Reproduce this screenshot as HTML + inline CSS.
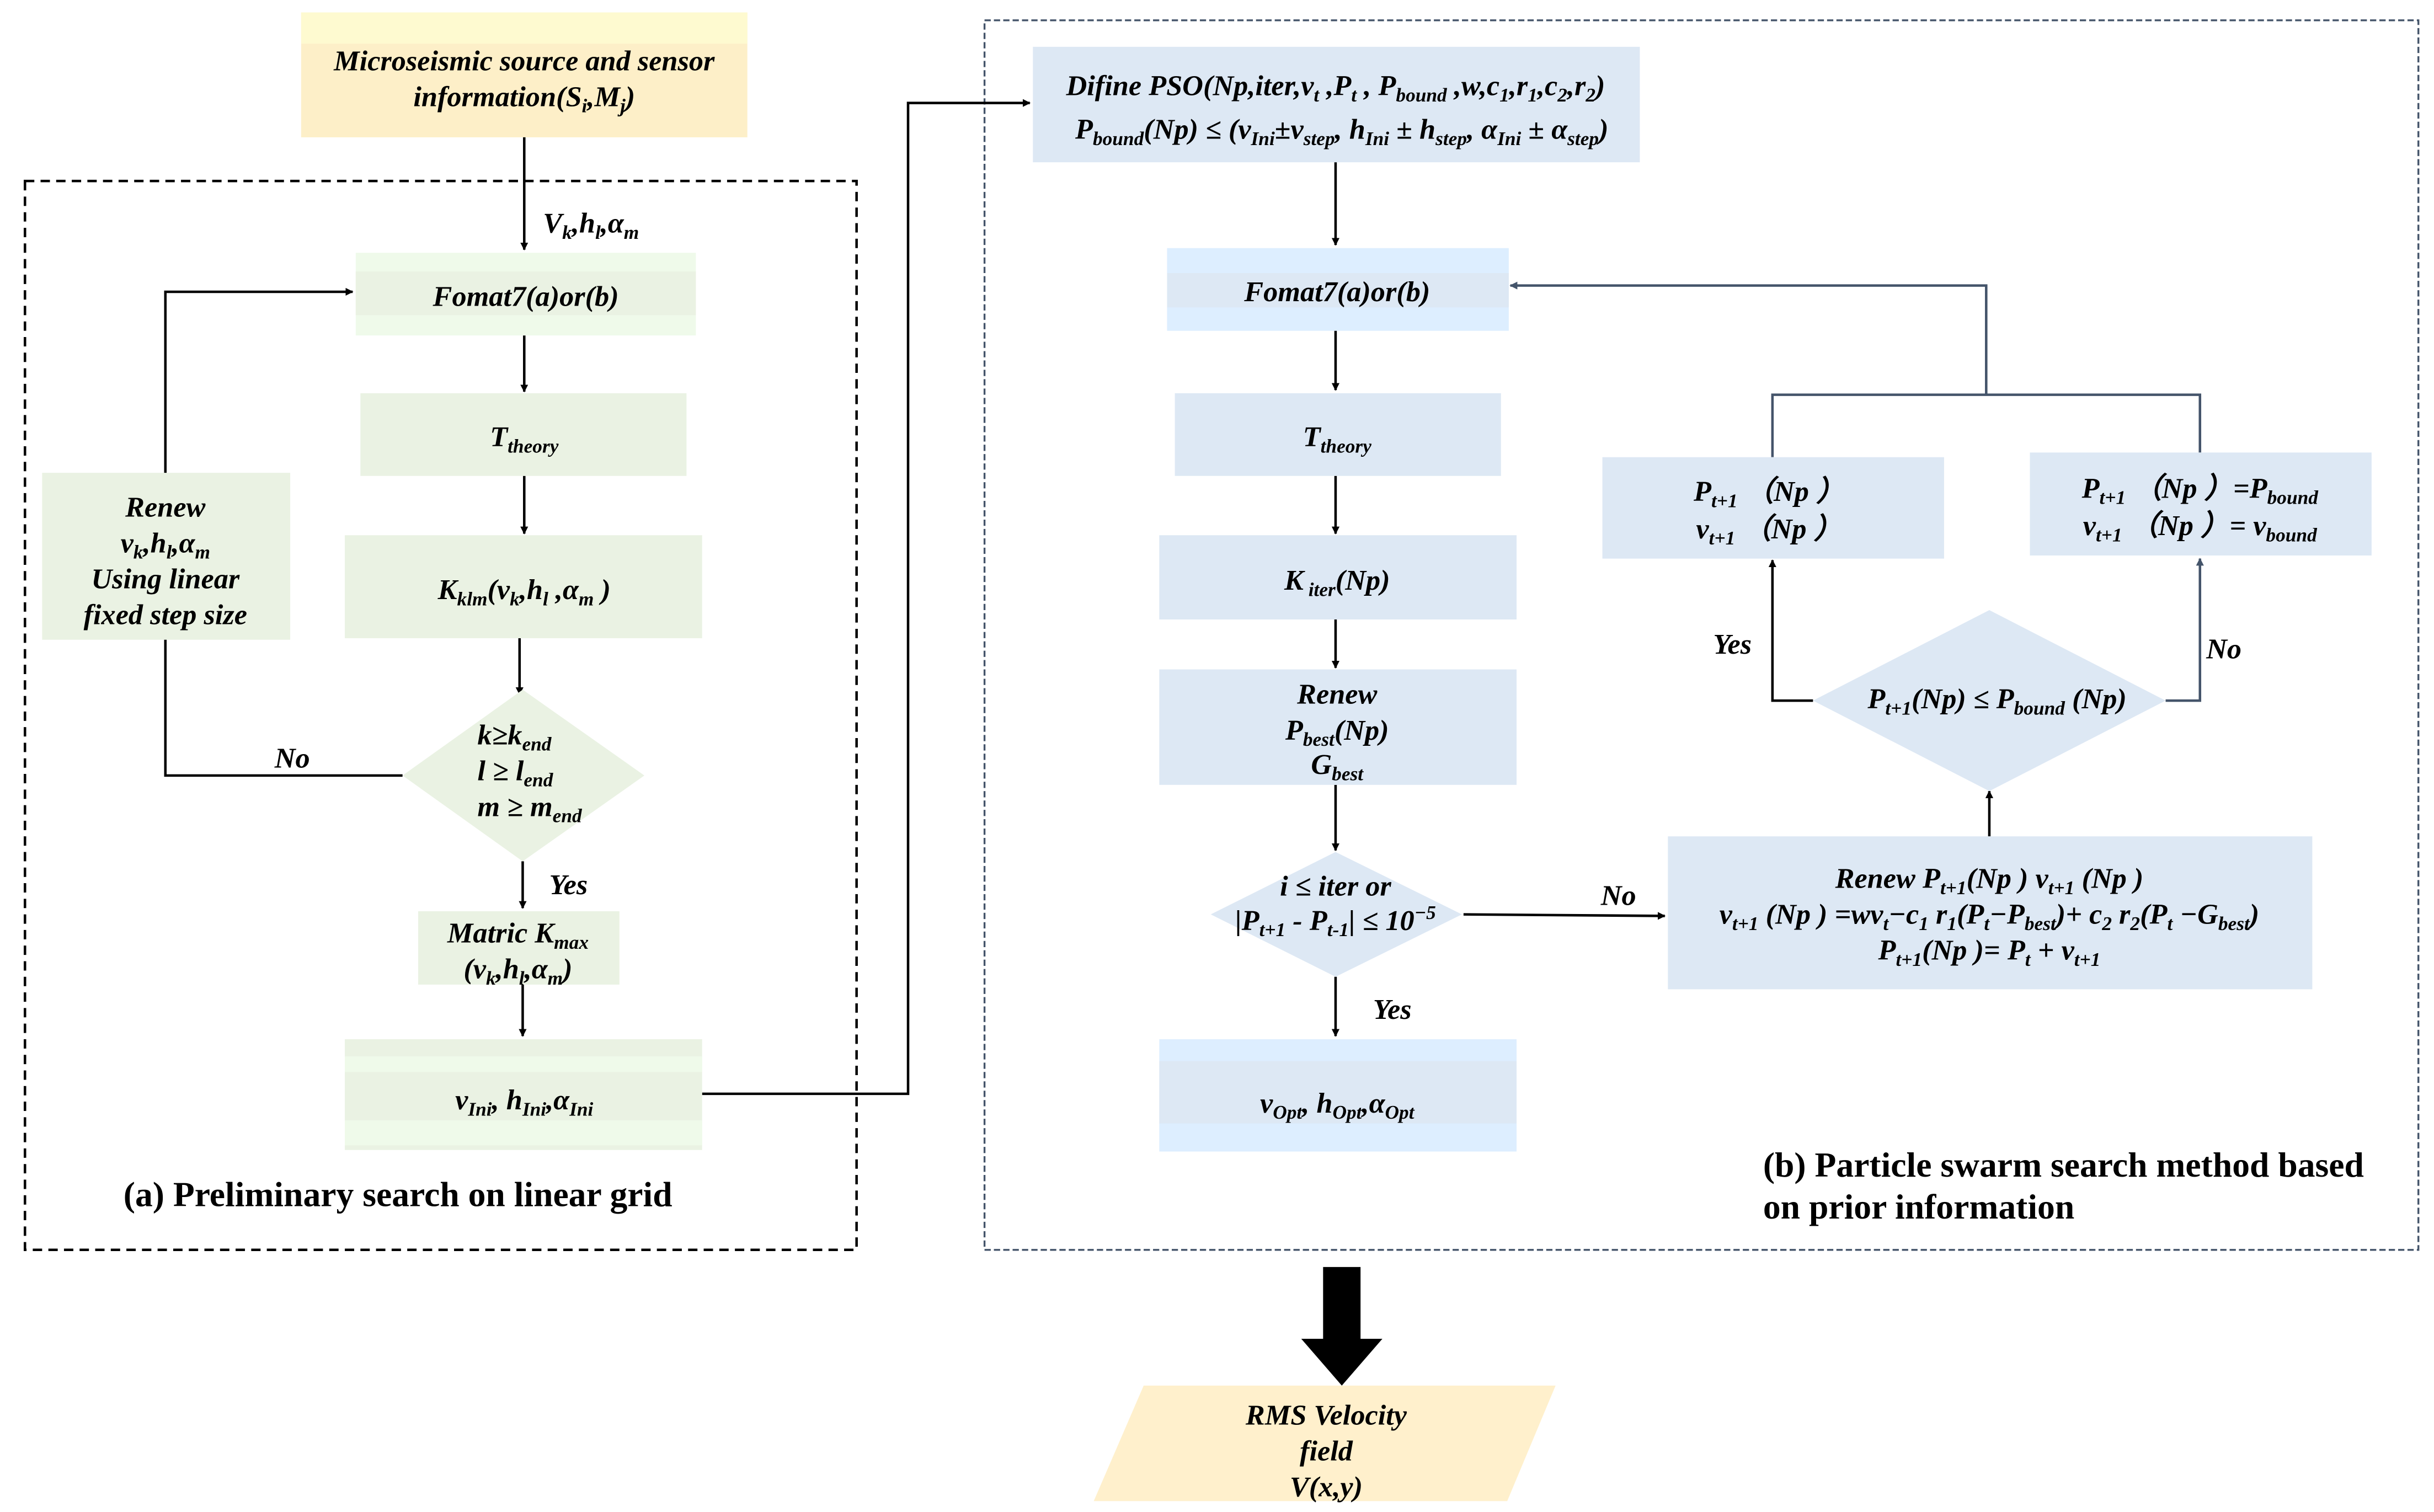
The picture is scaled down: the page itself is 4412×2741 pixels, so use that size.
<!DOCTYPE html>
<html><head><meta charset="utf-8"><style>
html,body{margin:0;padding:0;background:#fff;}
svg{display:block;}
text{font-family:"Liberation Serif",serif;font-weight:bold;font-style:italic;font-size:18.5px;fill:#000;}
.s{font-size:12.5px;}
.n{font-style:normal;font-size:22.5px;}
</style></head><body>
<svg width="4412" height="2741" viewBox="0 0 1560 969" preserveAspectRatio="none" xmlns="http://www.w3.org/2000/svg">
<defs>
<marker id="a" viewBox="0 0 10 10" refX="9" refY="5" markerWidth="5" markerHeight="5" orient="auto-start-reverse" markerUnits="userSpaceOnUse"><path d="M0,0L10,5L0,10z" fill="#000"/></marker>
<marker id="ab" viewBox="0 0 10 10" refX="9" refY="5" markerWidth="5" markerHeight="5" orient="auto-start-reverse" markerUnits="userSpaceOnUse"><path d="M0,0L10,5L0,10z" fill="#44546a"/></marker>
</defs>
<g>
<rect x="16" y="116" width="533" height="685" fill="none" stroke="#000" stroke-width="1.6" stroke-dasharray="6,4"/>
<rect x="631" y="13" width="919" height="788" fill="none" stroke="#44546a" stroke-width="1.2" stroke-dasharray="4,2"/>

<rect x="193" y="8" width="286" height="80" fill="#fdefc8"/>
<rect x="193" y="8" width="286" height="20" fill="#fefad0"/>
<text x="336" y="45" text-anchor="middle">Microseismic source and sensor</text>
<text x="336" y="68" text-anchor="middle">information(S<tspan class="s" dy="4">i</tspan><tspan dy="-4">,M</tspan><tspan class="s" dy="4">j</tspan><tspan dy="-4">)</tspan></text>

<g stroke="#000" stroke-width="1.6" fill="none">
<line x1="336" y1="88" x2="336" y2="160" marker-end="url(#a)"/>
<line x1="336" y1="215" x2="336" y2="251" marker-end="url(#a)"/>
<line x1="336" y1="305" x2="336" y2="342" marker-end="url(#a)"/>
<line x1="333" y1="409" x2="333" y2="445" marker-end="url(#a)"/>
<line x1="335" y1="552" x2="335" y2="582" marker-end="url(#a)"/>
<line x1="335" y1="631" x2="335" y2="664" marker-end="url(#a)"/>
<polyline points="258,497 106,497 106,187 226,187" marker-end="url(#a)"/>
<polyline points="450,701 582,701 582,66 660,66" marker-end="url(#a)"/>
</g>
<text x="348" y="149">V<tspan class="s" dy="4">k</tspan><tspan dy="-4">,h</tspan><tspan class="s" dy="4">l</tspan><tspan dy="-4">,α</tspan><tspan class="s" dy="4">m</tspan></text>

<rect x="228" y="162" width="218" height="53" fill="#effaea"/>
<rect x="228" y="174" width="218" height="28" fill="#eaf2e3"/>
<text x="337" y="196" text-anchor="middle">Fomat7(a)or(b)</text>

<rect x="231" y="252" width="209" height="53" fill="#eaf2e3"/>
<text x="336" y="286" text-anchor="middle">T<tspan class="s" dy="4">theory</tspan></text>

<rect x="221" y="343" width="229" height="66" fill="#eaf2e3"/>
<text x="336" y="384" text-anchor="middle">K<tspan class="s" dy="4">klm</tspan><tspan dy="-4">(v</tspan><tspan class="s" dy="4">k</tspan><tspan dy="-4">,h</tspan><tspan class="s" dy="4">l</tspan><tspan dy="-4"> ,α</tspan><tspan class="s" dy="4">m</tspan><tspan dy="-4"> )</tspan></text>

<rect x="27" y="303" width="159" height="107" fill="#eaf2e3"/>
<text x="106" y="331" text-anchor="middle">Renew</text>
<text x="106" y="354" text-anchor="middle">v<tspan class="s" dy="4">k</tspan><tspan dy="-4">,h</tspan><tspan class="s" dy="4">l</tspan><tspan dy="-4">,α</tspan><tspan class="s" dy="4">m</tspan></text>
<text x="106" y="377" text-anchor="middle">Using linear</text>
<text x="106" y="400" text-anchor="middle">fixed step size</text>

<polygon points="335,442 413,497 335,552 258,497" fill="#eaf2e3"/>
<text x="306" y="477">k≥k<tspan class="s" dy="4">end</tspan></text>
<text x="306" y="500">l ≥ l<tspan class="s" dy="4">end</tspan></text>
<text x="306" y="523">m ≥ m<tspan class="s" dy="4">end</tspan></text>
<text x="176" y="492">No</text>
<text x="352" y="573">Yes</text>

<rect x="268" y="584" width="129" height="47" fill="#eaf2e3"/>
<text x="332" y="604" text-anchor="middle">Matric K<tspan class="s" dy="4">max</tspan></text>
<text x="332" y="627" text-anchor="middle">(v<tspan class="s" dy="4">k</tspan><tspan dy="-4">,h</tspan><tspan class="s" dy="4">l</tspan><tspan dy="-4">,α</tspan><tspan class="s" dy="4">m</tspan><tspan dy="-4">)</tspan></text>

<rect x="221" y="666" width="229" height="71" fill="#eaf2e3"/>
<rect x="221" y="677" width="229" height="10" fill="#effaea"/>
<rect x="221" y="718" width="229" height="16" fill="#effaea"/>
<text x="336" y="711" text-anchor="middle">v<tspan class="s" dy="4">Ini</tspan><tspan dy="-4">, h</tspan><tspan class="s" dy="4">Ini</tspan><tspan dy="-4">,α</tspan><tspan class="s" dy="4">Ini</tspan></text>

<text class="n" x="255" y="773" text-anchor="middle">(a) Preliminary search on linear grid</text>

<g stroke="#000" stroke-width="1.6" fill="none">
<line x1="856" y1="104" x2="856" y2="157" marker-end="url(#a)"/>
<line x1="856" y1="212" x2="856" y2="250" marker-end="url(#a)"/>
<line x1="856" y1="305" x2="856" y2="342" marker-end="url(#a)"/>
<line x1="856" y1="397" x2="856" y2="428" marker-end="url(#a)"/>
<line x1="856" y1="503" x2="856" y2="545" marker-end="url(#a)"/>
<line x1="856" y1="626" x2="856" y2="664" marker-end="url(#a)"/>
<line x1="938" y1="586" x2="1067" y2="587" marker-end="url(#a)"/>
<line x1="1275" y1="536" x2="1275" y2="507" marker-end="url(#a)"/>
<polyline points="1162,449 1136,449 1136,359" marker-end="url(#a)"/>
</g>
<g stroke="#44546a" stroke-width="1.6" fill="none">
<polyline points="1388,449 1410,449 1410,358" marker-end="url(#ab)"/>
<polyline points="1136,293 1136,253 1410,253 1410,290"/>
<polyline points="1273,253 1273,183 968,183" marker-end="url(#ab)"/>
</g>

<rect x="662" y="30" width="389" height="74" fill="#dde8f4"/>
<text x="856" y="61" text-anchor="middle">Difine PSO(Np,iter,v<tspan class="s" dy="4">t</tspan><tspan dy="-4"> ,P</tspan><tspan class="s" dy="4">t</tspan><tspan dy="-4"> , P</tspan><tspan class="s" dy="4">bound</tspan><tspan dy="-4"> ,w,c</tspan><tspan class="s" dy="4">1</tspan><tspan dy="-4">,r</tspan><tspan class="s" dy="4">1</tspan><tspan dy="-4">,c</tspan><tspan class="s" dy="4">2</tspan><tspan dy="-4">,r</tspan><tspan class="s" dy="4">2</tspan><tspan dy="-4">)</tspan></text>
<text x="860" y="89" text-anchor="middle">P<tspan class="s" dy="4">bound</tspan><tspan dy="-4">(Np) ≤ (v</tspan><tspan class="s" dy="4">Ini</tspan><tspan dy="-4">±v</tspan><tspan class="s" dy="4">step</tspan><tspan dy="-4">, h</tspan><tspan class="s" dy="4">Ini</tspan><tspan dy="-4"> ± h</tspan><tspan class="s" dy="4">step</tspan><tspan dy="-4">, α</tspan><tspan class="s" dy="4">Ini</tspan><tspan dy="-4"> ± α</tspan><tspan class="s" dy="4">step</tspan><tspan dy="-4">)</tspan></text>

<rect x="748" y="159" width="219" height="53" fill="#ddeeff"/>
<rect x="748" y="175" width="219" height="22" fill="#dde8f4"/>
<text x="857" y="193" text-anchor="middle">Fomat7(a)or(b)</text>

<rect x="753" y="252" width="209" height="53" fill="#dde8f4"/>
<text x="857" y="286" text-anchor="middle">T<tspan class="s" dy="4">theory</tspan></text>

<rect x="743" y="343" width="229" height="54" fill="#dde8f4"/>
<text x="857" y="378" text-anchor="middle">K<tspan class="s" dy="4"> iter</tspan><tspan dy="-4">(Np)</tspan></text>

<rect x="743" y="429" width="229" height="74" fill="#dde8f4"/>
<text x="857" y="451" text-anchor="middle">Renew</text>
<text x="857" y="474" text-anchor="middle">P<tspan class="s" dy="4">best</tspan><tspan dy="-4">(Np)</tspan></text>
<text x="857" y="496" text-anchor="middle">G<tspan class="s" dy="4">best</tspan></text>

<polygon points="856,546 937,586 856,626 776,586" fill="#dde8f4"/>
<text x="856" y="574" text-anchor="middle">i ≤ iter or</text>
<text x="856" y="596" text-anchor="middle">|P<tspan class="s" dy="4">t+1</tspan><tspan dy="-4"> - P</tspan><tspan class="s" dy="4">t-1</tspan><tspan dy="-4">| ≤ 10</tspan><tspan class="s" dy="-7">−5</tspan></text>
<text x="1026" y="580">No</text>
<text x="880" y="653">Yes</text>

<rect x="743" y="666" width="229" height="72" fill="#ddeeff"/>
<rect x="743" y="680" width="229" height="40" fill="#dde8f4"/>
<text x="857" y="713" text-anchor="middle">v<tspan class="s" dy="4">Opt</tspan><tspan dy="-4">, h</tspan><tspan class="s" dy="4">Opt</tspan><tspan dy="-4">,α</tspan><tspan class="s" dy="4">Opt</tspan></text>

<rect x="1069" y="536" width="413" height="98" fill="#dde8f4"/>
<text x="1275" y="569" text-anchor="middle">Renew P<tspan class="s" dy="4">t+1</tspan><tspan dy="-4">(Np )  v</tspan><tspan class="s" dy="4">t+1</tspan><tspan dy="-4"> (Np )</tspan></text>
<text x="1275" y="592" text-anchor="middle">v<tspan class="s" dy="4">t+1</tspan><tspan dy="-4"> (Np ) =wv</tspan><tspan class="s" dy="4">t</tspan><tspan dy="-4">−c</tspan><tspan class="s" dy="4">1</tspan><tspan dy="-4"> r</tspan><tspan class="s" dy="4">1</tspan><tspan dy="-4">(P</tspan><tspan class="s" dy="4">t</tspan><tspan dy="-4">−P</tspan><tspan class="s" dy="4">best</tspan><tspan dy="-4">)+ c</tspan><tspan class="s" dy="4">2</tspan><tspan dy="-4"> r</tspan><tspan class="s" dy="4">2</tspan><tspan dy="-4">(P</tspan><tspan class="s" dy="4">t</tspan><tspan dy="-4"> −G</tspan><tspan class="s" dy="4">best</tspan><tspan dy="-4">)</tspan></text>
<text x="1275" y="615" text-anchor="middle">P<tspan class="s" dy="4">t+1</tspan><tspan dy="-4">(Np )= P</tspan><tspan class="s" dy="4">t</tspan><tspan dy="-4"> + v</tspan><tspan class="s" dy="4">t+1</tspan></text>

<polygon points="1275,391 1388,449 1275,507 1162,449" fill="#dde8f4"/>
<text x="1280" y="454" text-anchor="middle">P<tspan class="s" dy="4">t+1</tspan><tspan dy="-4">(Np) ≤ P</tspan><tspan class="s" dy="4">bound</tspan><tspan dy="-4"> (Np)</tspan></text>
<text x="1098" y="419">Yes</text>
<text x="1414" y="422">No</text>

<rect x="1027" y="293" width="219" height="65" fill="#dde8f4"/>
<text x="1134" y="321" text-anchor="middle">P<tspan class="s" dy="4">t+1</tspan><tspan dy="-4"> （Np ）</tspan></text>
<text x="1134" y="345" text-anchor="middle">v<tspan class="s" dy="4">t+1</tspan><tspan dy="-4"> （Np ）</tspan></text>

<rect x="1301" y="290" width="219" height="66" fill="#dde8f4"/>
<text x="1410" y="319" text-anchor="middle">P<tspan class="s" dy="4">t+1</tspan><tspan dy="-4"> （Np ）=P</tspan><tspan class="s" dy="4">bound</tspan></text>
<text x="1410" y="343" text-anchor="middle">v<tspan class="s" dy="4">t+1</tspan><tspan dy="-4"> （Np ）= v</tspan><tspan class="s" dy="4">bound</tspan></text>

<text class="n" x="1130" y="754">(b) Particle swarm search method based</text>
<text class="n" x="1130" y="781">on prior information</text>

<polygon points="848,812 872,812 872,858 886,858 860,888 834,858 848,858" fill="#000"/>

<polygon points="733,888 997,888 966,962 701,962" fill="#fff0cc"/>
<text x="850" y="913" text-anchor="middle">RMS Velocity</text>
<text x="850" y="936" text-anchor="middle">field</text>
<text x="850" y="959" text-anchor="middle">V(x,y)</text>
</g>
</svg>
</body></html>
